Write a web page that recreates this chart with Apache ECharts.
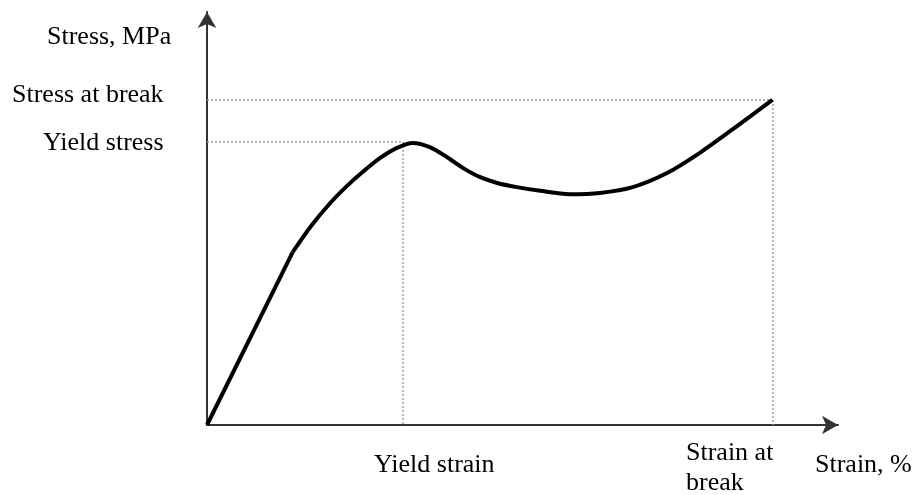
<!DOCTYPE html>
<html>
<head>
<meta charset="utf-8">
<script src="https://cdn.jsdelivr.net/npm/echarts@6/dist/echarts.min.js"></script>
<style>
html,body{margin:0;padding:0;background:#fff;}
#chart{width:912px;height:495px;}
</style>
</head>
<body>
<div id="chart"></div>
<script>
// Strain (arbitrary %, 0-100) and stress (arbitrary MPa, 0-100)
const elasticStrain = [0, 13.6];
const elasticStress = [0, 41.9];
const plasticStrain = [13.6, 16.5, 19.5, 22.2, 24.7, 27.4, 30.1, 32.6, 35.3, 38.0, 40.6, 43.3, 46.0, 49.1, 52.8, 57.5, 62.3, 67.5, 72.9, 78.1, 83.4, 89.6];
const plasticStress = [41.9, 48.2, 53.7, 57.9, 61.3, 64.6, 67.1, 68.3, 67.3, 64.9, 62.2, 60.0, 58.6, 57.6, 56.7, 55.9, 56.2, 57.6, 61.0, 65.9, 71.7, 78.7];
const yieldStrain = 31.1;
const yieldStress = 68.5;
const breakStrain = 89.6;
const breakStress = 78.7;

const yLabels = ['Stress, MPa', 'Stress at break', 'Yield stress'];
const xLabels = ['Yield strain', 'Strain at\nbreak', 'Strain, %'];

const zip = (a, b) => a.map((v, i) => [v, b[i]]);
const font = '"Liberation Serif", "Times New Roman", serif';

const chart = echarts.init(document.getElementById('chart'));
const axisCommon = {
  type: 'value', min: 0, max: 100,
  axisLine: { show: true, onZero: false, symbol: ['none', 'arrow'], symbolSize: [14, 16],
    lineStyle: { color: '#333', width: 2 } },
  axisTick: { show: false }, axisLabel: { show: false }, splitLine: { show: false }
};
const dotted = { color: '#999', width: 1.5, type: [2, 2] };
chart.setOption({
  animation: false,
  grid: { left: 207, right: 74, top: 12, bottom: 70 },
  xAxis: axisCommon,
  yAxis: axisCommon,
  series: [
    {
      type: 'line', data: zip(elasticStrain, elasticStress), symbol: 'none',
      lineStyle: { color: '#000', width: 4 }, z: 5
    },
    {
      type: 'line', data: zip(plasticStrain, plasticStress), symbol: 'none', smooth: 0.3,
      lineStyle: { color: '#000', width: 4, join: 'round' }, z: 5,
      markLine: {
        silent: true, symbol: 'none', label: { show: false }, lineStyle: dotted,
        data: [
          [{ coord: [0, yieldStress] }, { coord: [yieldStrain, yieldStress] }],
          [{ coord: [yieldStrain, yieldStress] }, { coord: [yieldStrain, 0] }],
          [{ coord: [0, breakStress] }, { coord: [breakStrain, breakStress] }],
          [{ coord: [breakStrain, breakStress] }, { coord: [breakStrain, 0] }]
        ]
      }
    }
  ],
  graphic: [
    { type: 'text', left: 47, top: 24, style: { text: yLabels[0], font: '26px ' + font, fill: '#000' } },
    { type: 'text', left: 12, top: 82, style: { text: yLabels[1], font: '26px ' + font, fill: '#000' } },
    { type: 'text', left: 43, top: 130, style: { text: yLabels[2], font: '26px ' + font, fill: '#000' } },
    { type: 'text', left: 374, top: 452, style: { text: xLabels[0], font: '26px ' + font, fill: '#000' } },
    { type: 'text', left: 686, top: 438, style: { text: xLabels[1], font: '26px ' + font, fill: '#000', lineHeight: 30 } },
    { type: 'text', left: 815, top: 452, style: { text: xLabels[2], font: '26px ' + font, fill: '#000' } }
  ]
});
</script>
</body>
</html>
